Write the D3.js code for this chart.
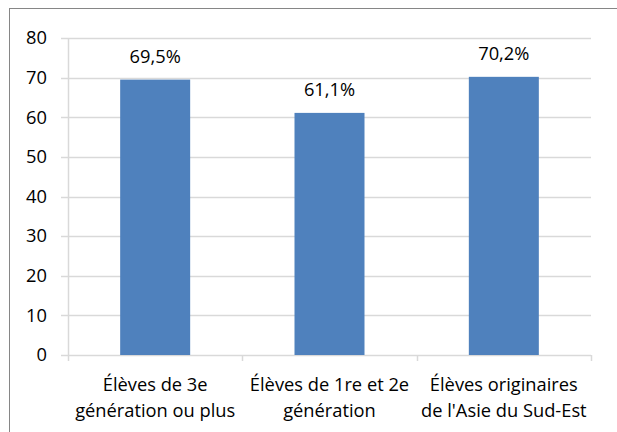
<!DOCTYPE html>
<html>
<head>
<meta charset="utf-8">
<script src="https://cdn.jsdelivr.net/npm/d3@7"></script>
<style>
  body { margin: 0; background: #fff; }
  text { font-family: "Open Sans", sans-serif; fill: #000; }
</style>
</head>
<body>
<svg id="chart" width="617" height="432"></svg>
<script>
var CATEGORIES = [
  ['Élèves de 3e', 'génération ou plus'],
  ['Élèves de 1re et 2e', 'génération'],
  ['Élèves originaires', "de l'Asie du Sud-Est"]
];
var VALUES = [69.5, 61.1, 70.2];
var VALUE_LABELS = ['69,5%', '61,1%', '70,2%'];
var Y_TICKS = [0, 10, 20, 30, 40, 50, 60, 70, 80];

var BAR_COLOR = '#4f81bd';
var GRID_COLOR = '#d9d9d9';
var FONT_SIZE = 18.3;

var svg = d3.select('#chart');

// chart border (only top and left show inside the picture)
svg.append('rect')
    .attr('x', 9.5)
    .attr('y', 8.5)
    .attr('width', 700)
    .attr('height', 500)
    .attr('fill', 'none')
    .attr('stroke', '#868686');

var margin = { top: 38, right: 26, bottom: 77, left: 68 };
var width = 617 - margin.left - margin.right;
var height = 432 - margin.top - margin.bottom;

var x = d3.scaleBand()
    .domain(d3.range(CATEGORIES.length))
    .range([0, width])
    .paddingInner(0)
    .paddingOuter(0);

var y = d3.scaleLinear().domain([0, 80]).range([height, 0]);

var g = svg.append('g')
    .attr('transform', 'translate(' + margin.left + ',' + margin.top + ')');

// gridlines
g.selectAll('.grid')
    .data(Y_TICKS)
  .enter().append('line')
    .attr('class', 'grid')
    .attr('x1', -7)
    .attr('x2', width)
    .attr('y1', (d) => Math.round(y(d)) + 0.5)
    .attr('y2', (d) => Math.round(y(d)) + 0.5)
    .attr('stroke', GRID_COLOR)
    .attr('stroke-width', 1.5);

// y axis line
g.append('line')
    .attr('x1', 0.5).attr('x2', 0.5)
    .attr('y1', 0).attr('y2', height)
    .attr('stroke', GRID_COLOR)
    .attr('stroke-width', 1.5);

// y tick labels
var yAxis = d3.axisLeft(y)
    .tickValues(Y_TICKS)
    .tickSize(0)
    .tickPadding(21);

g.append('g')
    .attr('class', 'y axis')
    .call(yAxis)
    .call((s) => s.select('.domain').remove())
    .selectAll('text')
      .style('font-size', FONT_SIZE + 'px')
      .style('font-family', '"Open Sans", sans-serif')
      .attr('fill', '#000');

// x axis ticks at category boundaries
var bounds = d3.range(CATEGORIES.length + 1).map((i) => i * x.step());
g.selectAll('.xtick')
    .data(bounds)
  .enter().append('line')
    .attr('class', 'xtick')
    .attr('x1', (d) => Math.round(d) + 0.5)
    .attr('x2', (d) => Math.round(d) + 0.5)
    .attr('y1', height)
    .attr('y2', height + 6)
    .attr('stroke', GRID_COLOR)
    .attr('stroke-width', 1.5);

// bars
var barW = 70;
g.selectAll('.bar')
    .data(VALUES)
  .enter().append('rect')
    .attr('class', 'bar')
    .attr('x', (d, i) => x(i) + x.bandwidth() / 2 - barW / 2)
    .attr('y', (d) => y(d))
    .attr('width', barW)
    .attr('height', (d) => height - y(d))
    .attr('fill', BAR_COLOR);

// value labels
g.selectAll('.value')
    .data(VALUES)
  .enter().append('text')
    .attr('class', 'value')
    .attr('x', (d, i) => x(i) + x.bandwidth() / 2)
    .attr('y', (d) => y(d) - 17)
    .attr('text-anchor', 'middle')
    .style('font-size', FONT_SIZE + 'px')
    .text((d, i) => VALUE_LABELS[i]);

// category labels, two lines each
var cat = g.selectAll('.cat')
    .data(CATEGORIES)
  .enter().append('text')
    .attr('class', 'cat')
    .attr('text-anchor', 'middle')
    .style('font-size', FONT_SIZE + 'px');

cat.selectAll('tspan')
    .data((d, i) => d.map((line) => ({ line: line, i: i })))
  .enter().append('tspan')
    .attr('x', (d) => x(d.i) + x.bandwidth() / 2)
    .attr('y', (d, j) => height + 36 + j * 26)
    .text((d) => d.line);
</script>
</body>
</html>
